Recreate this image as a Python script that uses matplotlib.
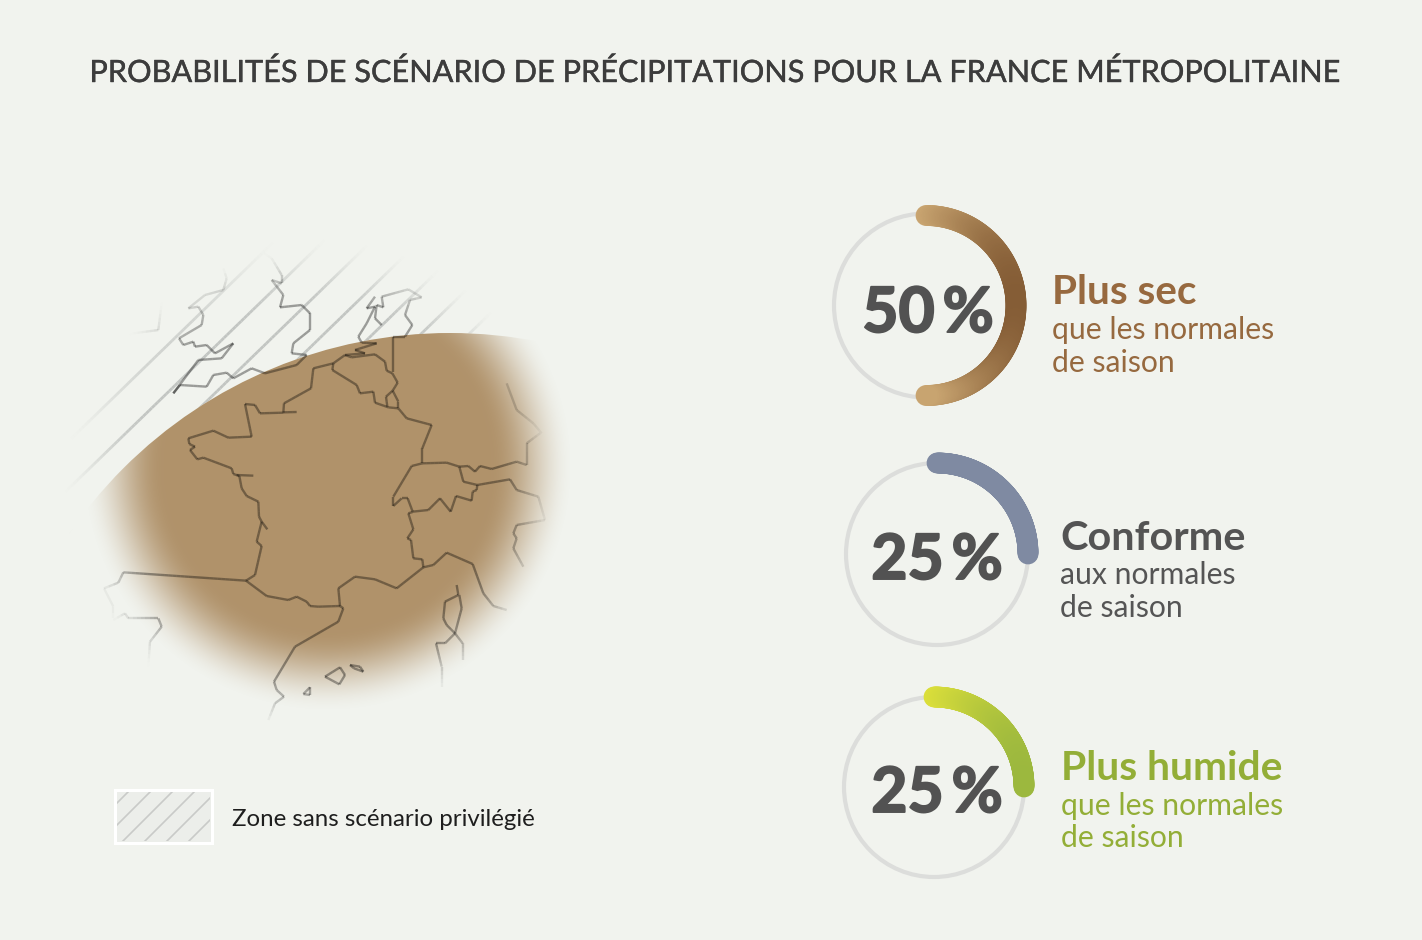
import numpy as np
import matplotlib
matplotlib.use("Agg")
import matplotlib.pyplot as plt
import matplotlib.patheffects as pe
from matplotlib.collections import LineCollection
from matplotlib.colors import LinearSegmentedColormap, to_rgb
from matplotlib.patches import Circle, Rectangle

# scenario values
scenario_values = [50, 25, 25]
scenario_labels = ["50\u2009%", "25\u2009%", "25\u2009%"]
scenario_titles = ["Plus sec", "Conforme", "Plus humide"]
scenario_sub1 = ["que les normales", "aux normales", "que les normales"]
scenario_sub2 = ["de saison", "de saison", "de saison"]

title = "PROBABILITÉS DE SCÉNARIO DE PRÉCIPITATIONS POUR LA FRANCE MÉTROPOLITAINE"
legend_text = "Zone sans scénario privilégié"

# map outlines (x, y in a 3x crop starting at 80,220)
france_west = [(760,430),(700,445),(693,505),(612,550),(610,578),(540,580),(525,555),(495,552),
               (515,650),(445,653),(400,632),(325,655),(328,672),(345,680),(330,690),(352,718),(370,713),(455,745),
               (460,762),(478,768),(485,805),(500,828),(535,845),(537,890),(545,905),(530,965),
               (545,978),(525,1065),(498,1082),(560,1128),(625,1140),(650,1130),(680,1145),(690,1158),(715,1160),
               (780,1158),(775,1105),(825,1070),(885,1078),(950,1105),(1030,1042),(1027,1018),(1000,1015),(993,960),
               (982,955),(1000,928),(985,880),(998,876)]
cotentin_tip = [(610,577),(650,576)]
loire_tip = [(470,765),(520,767)]
gironde_tip = [(545,905),(562,928)]
france_east = [(760,430),(757,450),(830,495),(840,520),(880,515),(885,548),(925,562),(955,565),(980,595),(1055,615),
               (1027,685),(1027,730)]
swiss = [(1027,730),(995,738),(940,830),(940,858),(965,835),(983,835),(998,875),(1045,870),(1080,835),(1112,875),
         (1128,828),(1175,842),(1178,815),(1190,810),(1192,795),(1150,785),(1138,740),(1100,728),(1027,730)]
belgium = [(760,430),(795,405),(815,412),(885,403),(915,425),(920,452),(937,460),(953,488),(938,512),(918,530),(922,560)]
luxembourg = [(938,512),(955,545),(955,565)]
netherlands = [(795,405),(855,400),(825,390),(890,370),(845,368),(835,350),(860,310),(885,260),(860,265),(885,230)]
germany_north = [(905,315),(885,295),(890,255),(910,262),(905,230),(985,208),(1025,232),(990,240),(975,285),(997,315),
                 (975,350),(940,350),(940,455)]
uk_south = [(280,520),(300,495),(380,500),(400,465),(440,458),(460,475),(515,445),(555,460),(650,435),(680,405),
            (635,400),(640,370),(690,330),(690,280),(665,255),(600,262),(610,225),(575,180),(605,190),(605,165),
            (575,115),(530,85)]
uk_west = [(280,520),(355,420),(425,415),(460,370),(405,400),(380,375),(345,380),(340,365),(310,375),(297,355),
           (365,315),(370,285),(355,260),(325,265),(375,225),(430,210),(440,175),(425,130)]
ireland = [(250,210),(235,330),(160,340),(90,370)]
spain_north = [(498,1082),(130,1057),(115,1088),(72,1105),(100,1160),(100,1195)]
spain_south = [(100,1200),(135,1180),(145,1195),(235,1195),(245,1220),(210,1265),(205,1340)]
spain_east = [(780,1158),(790,1165),(775,1205),(645,1280),(582,1385),(590,1410),(612,1430),(585,1450),(565,1500)]
majorca = [(735,1370),(780,1342),(795,1365),(778,1393),(735,1370)]
minorca = [(810,1335),(840,1340),(850,1355),(822,1345),(810,1335)]
ibiza = [(670,1422),(690,1402),(690,1425),(670,1422)]
italy_west = [(1030,1042),(1060,1035),(1100,998),(1178,1032),(1210,1120),(1240,1158),(1280,1170)]
corsica = [(1130,1095),(1135,1125),(1095,1145),(1090,1195),(1100,1215),(1125,1240),(1145,1165),(1138,1125)]
sardinia_w = [(1125,1240),(1095,1270),(1068,1270),(1085,1340),(1085,1400)]
sardinia_e = [(1125,1240),(1148,1270),(1148,1320)]
alps_north = [(1138,740),(1165,738),(1185,755),(1200,738),(1235,747),(1310,725),(1340,735),(1340,670),(1380,640)]
alps_south = [(1192,795),(1290,778),(1310,810),(1375,830),(1395,900),(1310,915),(1300,940),(1310,955),(1300,985),(1330,1040)]
czech = [(1280,490),(1310,570),(1360,610),(1385,640)]

borders = [france_west, cotentin_tip, loire_tip, gironde_tip, france_east, swiss, belgium, luxembourg, netherlands,
           germany_north, uk_south, uk_west, ireland, spain_north, spain_south, spain_east, majorca, minorca, ibiza,
           italy_west, corsica, sardinia_w, sardinia_e, alps_north, alps_south, czech]

# hatch lines: x + k*y = c
hatch_c = [523, 572, 620, 668, 717, 765, 813, 861]
hatch_k = 1.03

BG = "#f1f3ee"
BROWN = "#b0926a"

plt.rcParams["font.family"] = ["Lato", "DejaVu Sans"]

fig = plt.figure(figsize=(14.22, 9.4), dpi=100, facecolor=BG)
ax = fig.add_axes([0, 0, 1, 1])


def smooth(t):
    t = np.clip(t, 0, 1)
    return t * t * (3 - 2 * t)


def rgba_layer(color, alpha):
    img = np.zeros(alpha.shape + (4,))
    img[..., :3] = to_rgb(color)
    img[..., 3] = alpha
    return img


def fading_line(pts, color, alpha, lw, start, end, zorder):
    # cut a polyline in short pieces so it can fade out away from the map centre
    segs = []
    for a, b in zip(pts[:-1], pts[1:]):
        n = max(1, int(np.hypot(b[0] - a[0], b[1] - a[1]) / 4))
        t = np.linspace(0, 1, n + 1)[:, None]
        p = np.array(a) + t * (np.array(b) - np.array(a))
        segs.extend(np.stack([p[:-1], p[1:]], axis=1))
    segs = np.array(segs)
    mid = segs.mean(axis=1)
    d = np.hypot(mid[:, 0] - 315, mid[:, 1] - 490)
    rgba = np.zeros((len(segs), 4))
    rgba[:, :3] = to_rgb(color)
    rgba[:, 3] = alpha * (1 - smooth((d - start) / (end - start)))
    lc = LineCollection(segs, colors=rgba, linewidths=lw, capstyle="butt", zorder=zorder)
    ax.add_collection(lc)


# map area
map_x0, map_x1, map_y0, map_y1 = 20, 680, 170, 780
xx, yy = np.meshgrid(np.arange(map_x0, map_x1), np.arange(map_y0, map_y1))

for c in hatch_c:
    fading_line([(c - hatch_k * map_y0, map_y0), (c - hatch_k * map_y1, map_y1)],
                "#c2c5c2", 1.0, 2.0, 180, 252, 1)

# big circle gives the sharp upper left edge of the brown zone
edge_circle = Circle((450, 795), 462, facecolor=BG, edgecolor="none", zorder=2)
ax.add_patch(edge_circle)

d_blob = np.hypot(xx - 327, yy - 466)
blob_alpha = 1 - smooth((d_blob - 164) / 82)
blob = ax.imshow(rgba_layer(BROWN, blob_alpha), extent=(map_x0, map_x1, map_y1, map_y0),
                 interpolation="bilinear", zorder=3, aspect="auto")
blob.set_clip_path(edge_circle)

for pts in borders:
    pts = np.array(pts, dtype=float)
    pts = np.column_stack([80 + pts[:, 0] / 3, 220 + pts[:, 1] / 3])
    fading_line(pts, "#000000", 0.36, 1.7, 185, 245, 4)

ax.set_xlim(0, 1422)
ax.set_ylim(940, 0)
ax.axis("off")

ax.text(712.5, 72.5, title, ha="center", va="center", fontsize=22.1, color="#3c3c3c", zorder=10,
        path_effects=[pe.withStroke(linewidth=0.3, foreground="#3c3c3c")])

# legend
ax.add_patch(Rectangle((115, 790), 97, 53, facecolor="#eceeea", edgecolor="white", lw=2.2, zorder=6))
legend_clip = Rectangle((117, 792), 93, 49, transform=ax.transData)
legend_c = [920, 942, 964, 986, 1008, 1030, 1052]
legend_segs = [[(c - 1.0 * 780, 780), (c - 1.0 * 850, 850)] for c in legend_c]
legend_hatch = LineCollection(legend_segs, colors="#c9cac8", linewidths=1.2, zorder=7)
ax.add_collection(legend_hatch)
legend_hatch.set_clip_path(legend_clip)
ax.text(232, 820, legend_text, ha="left", va="center", fontsize=17.3, color="#1e1e1e", zorder=10)

# gauges
centers = [(926, 305.5), (937, 554), (934, 787)]
ring_radius = [92, 91, 90]
arc_radius = [90, 91, 90]
grad_colors = [("#c9a571", "#855d36"), ("#7f8aa2", "#7f8aa2"), ("#dcdf3a", "#9cb83e")]
title_colors = ["#97693f", "#545454", "#93ae37"]
sub_colors = ["#96693f", "#555555", "#93ae37"]
pct_pos = [(928, 314), (937, 561), (937, 794)]
text_x = [1052, 1060, 1061]
title_y = [293, 539, 769]
title_size = [29.2, 29.8, 29.4]
sub1_y = [330, 575, 806]
sub2_y = [363, 608, 838]

for i, val in enumerate(scenario_values):
    cx, cy = centers[i]
    ax.add_patch(Circle((cx, cy), ring_radius[i], facecolor="none", edgecolor="#dcdddb", lw=3, zorder=6))

    # coloured arc clockwise from the top, colour runs left to right
    theta = np.radians(np.linspace(0, val / 100 * 360, 181))
    x = cx + arc_radius[i] * np.sin(theta)
    y = cy - arc_radius[i] * np.cos(theta)
    pts = np.column_stack([x, y])
    segs = np.stack([pts[:-1], pts[1:]], axis=1)
    cmap = LinearSegmentedColormap.from_list("g%d" % i, grad_colors[i])
    lc = LineCollection(segs, cmap=cmap, linewidths=15, capstyle="round", zorder=7)
    lc.set_array((x[:-1] - x.min()) / (x.max() - x.min()))
    ax.add_collection(lc)

    ax.text(pct_pos[i][0], pct_pos[i][1], scenario_labels[i], ha="center", va="center",
            fontsize=45, fontweight="bold", color="#525252", zorder=10,
            path_effects=[pe.withStroke(linewidth=1.4, foreground="#525252")])
    ax.text(text_x[i], title_y[i], scenario_titles[i], ha="left", va="center",
            fontsize=title_size[i], fontweight="bold", color=title_colors[i], zorder=10)
    ax.text(text_x[i], sub1_y[i], scenario_sub1[i], ha="left", va="center",
            fontsize=21.7, color=sub_colors[i], zorder=10)
    ax.text(text_x[i], sub2_y[i], scenario_sub2[i], ha="left", va="center",
            fontsize=21.7, color=sub_colors[i], zorder=10)

fig.savefig("out.png", dpi=100, facecolor=BG)
